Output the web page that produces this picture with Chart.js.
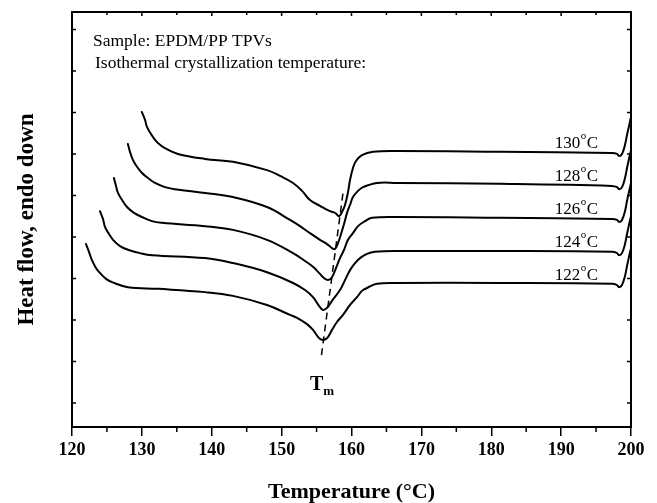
<!DOCTYPE html>
<html><head><meta charset="utf-8">
<script src="https://cdn.jsdelivr.net/npm/chart.js@4/dist/chart.umd.min.js"></script>
<style>html,body{margin:0;padding:0;background:#fff;}#wrap{width:657px;height:503px;position:relative;}</style>
</head><body><div id="wrap"><canvas id="c"></canvas></div>
<script>
const SERIF = "'Liberation Serif','Times New Roman',serif";

// Isothermal crystallization temperatures (°C)
const temps = [122, 124, 126, 128, 130];

// DSC heating curves (x = temperature °C, y = heat flow, arbitrary units, endo down)
const x122 = [122.0,122.43,122.86,123.43,124.01,124.87,125.72,128.01,132.31,139.03,143.04,147.91,151.20,152.20,153.63,154.49,155.21,155.78,156.49,157.21,157.92,158.78,159.79,160.79,161.50,162.22,163.65,166.51,181.25,197.28,198.0,198.28,198.71,199.14,199.43,199.71,200];
const y122 = [4.41,4.22,4.02,3.83,3.71,3.57,3.49,3.37,3.33,3.25,3.16,2.94,2.70,2.63,2.48,2.34,2.17,2.10,2.14,2.34,2.53,2.70,2.94,3.13,3.28,3.35,3.45,3.47,3.47,3.45,3.42,3.37,3.42,3.64,3.88,4.10,4.31];

const x124 = [124.0,124.44,124.72,125.30,125.87,126.87,128.01,129.73,131.45,139.03,143.04,147.91,151.63,153.35,154.49,155.06,155.49,155.92,156.49,157.21,158.35,159.07,159.79,160.50,161.22,162.22,163.36,166.51,181.25,197.28,198.0,198.28,198.71,199.14,199.43,199.71,200];
const y124 = [5.20,5.01,4.82,4.65,4.51,4.36,4.27,4.19,4.14,4.07,3.95,3.73,3.47,3.30,3.13,2.99,2.89,2.82,2.87,3.04,3.30,3.54,3.78,3.95,4.07,4.17,4.22,4.24,4.24,4.22,4.19,4.14,4.19,4.41,4.65,4.87,5.08];

const x126 = [126.0,126.30,126.58,127.16,127.87,128.87,130.02,131.45,132.88,139.03,143.04,147.91,151.63,153.35,154.49,155.49,156.06,156.64,157.21,157.78,158.35,158.93,159.50,160.21,160.93,161.93,162.93,166.51,181.25,197.28,198.0,198.28,198.71,199.14,199.43,199.71,200];
const y126 = [6.00,5.81,5.64,5.47,5.30,5.16,5.06,4.96,4.92,4.84,4.75,4.51,4.19,4.00,3.86,3.69,3.59,3.54,3.61,3.83,4.07,4.27,4.51,4.67,4.84,4.96,5.04,5.06,5.04,5.01,4.99,4.94,4.99,5.20,5.45,5.66,5.88];

const x128 = [128.0,128.30,128.73,129.30,130.02,130.88,131.88,133.31,134.74,139.03,143.04,147.91,151.20,152.63,154.06,155.49,156.64,157.21,157.64,158.07,158.50,158.93,159.36,159.79,160.21,160.93,161.65,163.65,166.51,181.25,197.28,198.0,198.28,198.71,199.14,199.43,199.71,200];
const y128 = [6.82,6.63,6.43,6.27,6.12,6.00,5.88,5.78,5.73,5.64,5.54,5.30,4.99,4.84,4.67,4.51,4.39,4.31,4.29,4.43,4.65,4.89,5.16,5.35,5.54,5.69,5.78,5.88,5.88,5.86,5.81,5.78,5.73,5.78,6.00,6.24,6.46,6.67];

const x130 = [130.0,130.45,130.73,131.31,131.88,132.59,133.31,135.17,139.03,143.04,147.91,149.77,151.63,152.92,154.06,155.49,156.92,157.64,158.21,158.64,159.07,159.50,159.79,160.21,160.64,161.50,163.08,166.51,181.25,197.28,198.0,198.28,198.71,199.14,199.43,199.71,200];
const y130 = [7.59,7.40,7.23,7.06,6.92,6.80,6.72,6.58,6.46,6.39,6.19,6.05,5.88,5.69,5.47,5.33,5.20,5.16,5.08,5.18,5.35,5.66,5.95,6.24,6.41,6.55,6.63,6.65,6.63,6.60,6.58,6.53,6.58,6.80,7.04,7.25,7.47];

// Tm guide line (dashed) through the melting peaks
const tmX = [155.7, 158.8];
const tmY = [1.73, 5.66];

// Axis ticks
const xTickLabels = ['120','130','140','150','160','170','180','190','200'];
const xMinorTicks = [125,135,145,155,165,175,185,195];
const yTickVals = [0.58,1.58,2.58,3.58,4.58,5.58,6.58,7.58,8.58,9.58];

// Annotation anchors (data coords)
const ANN = {
  curveLabelX: 189.1,
  curveLabelY: [3.54, 4.34, 5.13, 5.93, 6.72],
  tmLabel: {x: 154.06, y: 0.89}
};

const xs = [x122, x124, x126, x128, x130];
const ys = [y122, y124, y126, y128, y130];
const toPts = (a, b) => a.map((v, i) => ({x: v, y: b[i]}));

const datasets = temps.map((t, k) => ({
  label: t + ' °C',
  data: toPts(xs[k], ys[k]),
  borderColor: '#000',
  borderWidth: 2,
  pointRadius: 0,
  fill: false,
  tension: 0.4,
  borderJoinStyle: 'round',
  borderCapStyle: 'round'
}));
datasets.push({
  label: 'Tm',
  data: toPts(tmX, tmY),
  borderColor: '#000',
  borderWidth: 1.5,
  borderDash: [7, 5],
  pointRadius: 0,
  fill: false
});

const deco = {
  id: 'deco',
  afterDraw(chart) {
    const {ctx, chartArea: a, scales: {x, y}} = chart;
    ctx.save();
    ctx.strokeStyle = '#000';
    ctx.fillStyle = '#000';
    ctx.lineWidth = 2;
    ctx.strokeRect(a.left, a.top, a.right - a.left, a.bottom - a.top);
    ctx.lineWidth = 1.5;
    ctx.beginPath();
    xMinorTicks.forEach(v => {
      const px = x.getPixelForValue(v);
      ctx.moveTo(px, a.bottom); ctx.lineTo(px, a.bottom + 5);
    });
    xTickLabels.forEach(l => {
      const px = x.getPixelForValue(+l);
      ctx.moveTo(px, a.top); ctx.lineTo(px, a.top + 4);
    });
    xMinorTicks.forEach(v => {
      const px = x.getPixelForValue(v);
      ctx.moveTo(px, a.top); ctx.lineTo(px, a.top + 3);
    });
    yTickVals.forEach(v => {
      const py = y.getPixelForValue(v);
      ctx.moveTo(a.left, py); ctx.lineTo(a.left + 4, py);
      ctx.moveTo(a.right, py); ctx.lineTo(a.right - 4, py);
    });
    ctx.stroke();

    ctx.textAlign = 'left';
    ctx.textBaseline = 'alphabetic';
    ctx.font = `17.5px ${SERIF}`;
    ctx.fillText('Sample: EPDM/PP TPVs', 93, 46);
    ctx.fillText('Isothermal crystallization temperature:', 95, 68);

    temps.forEach((t, k) => {
      const px = x.getPixelForValue(ANN.curveLabelX);
      const py = y.getPixelForValue(ANN.curveLabelY[k]);
      ctx.font = `17px ${SERIF}`;
      const num = String(t);
      ctx.fillText(num, px, py);
      const w = ctx.measureText(num).width;
      ctx.font = `11px ${SERIF}`;
      ctx.fillText('o', px + w + 0.5, py - 9);
      const w2 = ctx.measureText('o').width;
      ctx.font = `17px ${SERIF}`;
      ctx.fillText('C', px + w + w2 + 1, py);
    });

    const tx = x.getPixelForValue(ANN.tmLabel.x);
    const ty = y.getPixelForValue(ANN.tmLabel.y);
    ctx.font = `bold 20px ${SERIF}`;
    ctx.fillText('T', tx, ty);
    const tw = ctx.measureText('T').width;
    ctx.font = `bold 13px ${SERIF}`;
    ctx.fillText('m', tx + tw, ty + 5);
    ctx.restore();
  }
};

new Chart(document.getElementById('c'), {
  type: 'line',
  data: {datasets},
  plugins: [deco],
  options: {
    responsive: true,
    maintainAspectRatio: false,
    animation: false,
    events: [],
    layout: {padding: {top: 12, right: 26, left: 0, bottom: 0}},
    plugins: {legend: {display: false}, tooltip: {enabled: false}},
    scales: {
      x: {
        type: 'linear',
        min: 120, max: 200,
        afterFit: s => { s.height = 76; },
        afterBuildTicks: s => { s.ticks = xTickLabels.map(l => ({value: +l})); },
        ticks: {
          color: '#000',
          padding: 4,
          maxRotation: 0,
          font: {family: SERIF, size: 18, weight: 'bold'},
          callback: v => String(v)
        },
        grid: {display: true, drawOnChartArea: false, drawTicks: true, tickLength: 9, color: '#000', lineWidth: 1.5},
        border: {display: false},
        title: {
          display: true,
          text: 'Temperature (°C)',
          color: '#000',
          font: {family: SERIF, size: 22, weight: 'bold', lineHeight: 1.0},
          padding: {top: 0, bottom: 0}
        }
      },
      y: {
        type: 'linear',
        min: 0, max: 10,
        afterFit: s => { s.width = 72; },
        ticks: {display: false},
        grid: {display: false},
        border: {display: false},
        title: {
          display: true,
          text: 'Heat flow, endo down',
          color: '#000',
          font: {family: SERIF, size: 23, weight: 'bold', lineHeight: 1.0},
          padding: {top: 16, bottom: 0}
        }
      }
    }
  }
});
</script>
</body></html>
